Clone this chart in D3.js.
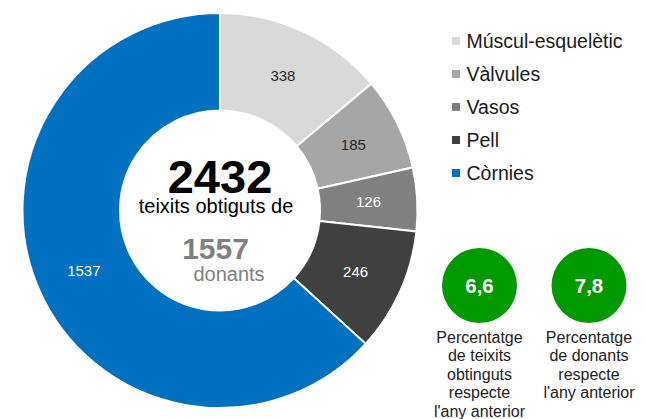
<!DOCTYPE html>
<html>
<head>
<meta charset="utf-8">
<script src="https://cdn.jsdelivr.net/npm/d3@7"></script>
<style>
  html, body { margin: 0; padding: 0; background: #fff; }
  svg { display: block; font-family: "Liberation Sans", Arial, sans-serif; }
</style>
</head>
<body>
<svg id="chart" width="645" height="419"></svg>
<script>
// Teixits obtinguts per tipus
const categories = ["Múscul-esquelètic", "Vàlvules", "Vasos", "Pell", "Còrnies"];
const values = [338, 185, 126, 246, 1537];
const donors = 1557;

// Variació respecte l'any anterior (%)
const changeValues = [6.6, 7.8];
const changeCaptions = [
  ["Percentatge", "de teixits", "obtinguts", "respecte", "l'any anterior"],
  ["Percentatge", "de donants", "respecte", "l'any anterior"]
];

const palette = ["#d9d9d9", "#a6a6a6", "#808080", "#404040", "#0070c0"];
const labelInk = ["#262626", "#262626", "#ffffff", "#ffffff", "#ffffff"];

const svg = d3.select("#chart");
const cx = 220, cy = 210.5;
const rOuter = 197.5, rInner = 100;

const color = d3.scaleOrdinal().domain(categories).range(palette);
const ink = d3.scaleOrdinal().domain(categories).range(labelInk);

const data = categories.map((c, i) => ({ cat: c, value: values[i] }));
const pie = d3.pie().value(d => d.value).sort(null);
const arc = d3.arc().innerRadius(rInner).outerRadius(rOuter);

const g = svg.append("g").attr("transform", `translate(${cx},${cy})`);
const arcs = pie(data);

g.selectAll("path.slice")
  .data(arcs)
  .join("path")
  .attr("class", "slice")
  .attr("d", arc)
  .attr("fill", d => color(d.data.cat))
  .attr("stroke", "#fff")
  .attr("stroke-width", 2)
  .attr("stroke-linejoin", "miter");

g.selectAll("text.val")
  .data(arcs)
  .join("text")
  .attr("class", "val")
  .attr("transform", d => `translate(${arc.centroid(d)})`)
  .attr("text-anchor", "middle")
  .attr("dy", "0.35em")
  .attr("font-size", 15)
  .attr("fill", d => ink(d.data.cat))
  .text(d => d.data.value);

// Centre summary
const total = d3.sum(values);
g.append("text")
  .attr("x", 0).attr("y", -18)
  .attr("text-anchor", "middle")
  .attr("font-size", 47).attr("font-weight", "bold")
  .attr("fill", "#000")
  .text(total);
g.append("text")
  .attr("x", -4).attr("y", 2.5)
  .attr("text-anchor", "middle")
  .attr("font-size", 20)
  .attr("fill", "#000")
  .text("teixits obtiguts de");
g.append("text")
  .attr("x", -4.5).attr("y", 48.5)
  .attr("text-anchor", "middle")
  .attr("font-size", 30).attr("font-weight", "bold")
  .attr("fill", "#808080")
  .text(donors);
g.append("text")
  .attr("x", 9).attr("y", 70)
  .attr("text-anchor", "middle")
  .attr("font-size", 20)
  .attr("fill", "#808080")
  .text("donants");

// Legend
const legendY = d3.scalePoint().domain(categories).range([41, 173]);
const legend = svg.append("g").selectAll("g")
  .data(categories)
  .join("g")
  .attr("transform", d => `translate(452,${legendY(d)})`);
legend.append("rect")
  .attr("x", 0).attr("y", -4)
  .attr("width", 8).attr("height", 8)
  .attr("fill", d => color(d));
legend.append("text")
  .attr("x", 14.5).attr("y", 0)
  .attr("dy", "0.35em")
  .attr("font-size", 19.5)
  .attr("fill", "#1a1a1a")
  .text(d => d);

// Year-on-year change badges
const fmt = d3.formatLocale({ decimal: ",", thousands: ".", grouping: [3], currency: ["", " €"] }).format(".1f");
const badgeX = d3.scalePoint().domain(d3.range(changeValues.length)).range([479.5, 589]);
const badges = svg.append("g").selectAll("g")
  .data(changeValues)
  .join("g")
  .attr("transform", (d, i) => `translate(${badgeX(i)},285.5)`);
badges.append("circle")
  .attr("r", 37.5)
  .attr("fill", "#009900");
badges.append("text")
  .attr("text-anchor", "middle")
  .attr("dy", "0.36em")
  .attr("font-size", 20.5).attr("font-weight", "bold")
  .attr("fill", "#fff")
  .text(d => fmt(d));
badges.each(function(d, i) {
  d3.select(this).selectAll("text.cap")
    .data(changeCaptions[i])
    .join("text")
    .attr("class", "cap")
    .attr("text-anchor", "middle")
    .attr("y", (t, j) => 51.5 + j * 18.5)
    .attr("dy", "0.35em")
    .attr("font-size", 16)
    .attr("fill", "#222")
    .text(t => t);
});
</script>
</body>
</html>
